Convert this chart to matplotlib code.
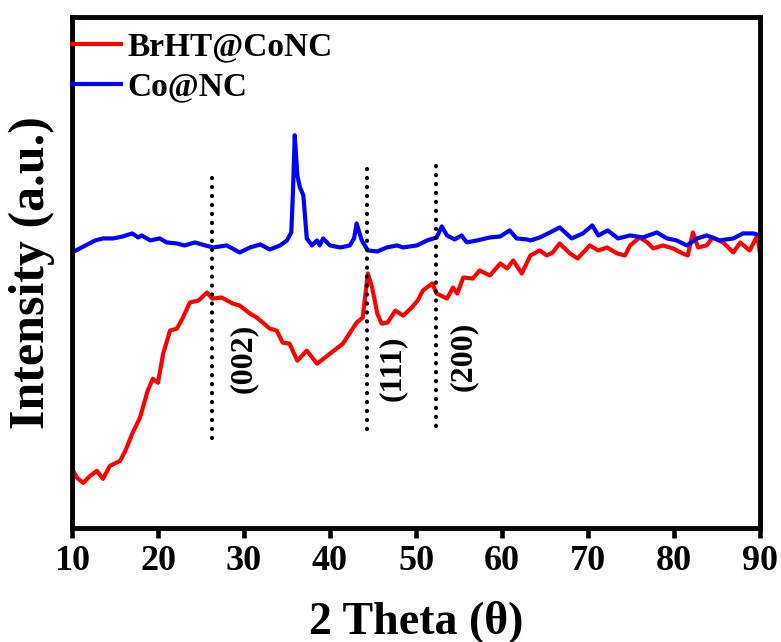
import numpy as np
import matplotlib
matplotlib.use('Agg')
import matplotlib.pyplot as plt

# XRD patterns (intensity in arbitrary units)
theta_conc = [10, 10.9, 12.7, 13.6, 14.8, 15.9, 17, 17.7, 18.1, 19.1,
              20.2, 21, 22.2, 23.1, 24.3, 25.5, 26.4, 28, 29.5, 30.7,
              31.9, 33, 34.2, 35, 35.5, 35.7, 35.9, 36.2, 36.5, 36.9,
              37.3, 37.9, 38.5, 38.8, 39.2, 40, 41.2, 42.3, 42.8, 43.1,
              43.4, 43.7, 44.4, 45.5, 46.6, 47.8, 48.5, 50.1, 51.3, 52.4,
              53, 53.6, 54.5, 55.3, 55.9, 57.1, 58.6, 59.8, 60.9, 61.7,
              62.9, 63.3, 64.4, 65.6, 66.7, 68.1, 69.4, 70.5, 71.2, 72.3,
              73.5, 74.9, 76.4, 78, 79.2, 80.3, 81.5, 82.7, 83.8, 85.3,
              86.9, 88, 89.2, 90]
int_conc = [276, 280, 288, 290, 290, 292, 295, 291, 293, 288,
            290, 286, 285, 283, 286, 283, 281, 283, 276, 281,
            284, 279, 283, 288, 296, 338, 393, 353, 341, 333,
            290, 283, 288, 283, 290, 283, 281, 283, 290, 305,
            296, 288, 278, 277, 281, 283, 281, 283, 288, 291,
            302, 293, 289, 293, 286, 288, 291, 292, 298, 290,
            289, 288, 291, 296, 301, 290, 295, 303, 293, 298,
            290, 293, 291, 296, 290, 288, 283, 290, 293, 288,
            290, 295, 295, 293]

theta_brht = [10, 10.6, 11.3, 12.1, 12.9, 13.6, 14.4, 15.6, 16.2, 17,
              17.9, 18.8, 19.4, 20, 20.6, 21.4, 22.2, 22.9, 23.7, 24.7,
              25.7, 26.3, 27.4, 28.7, 29.5, 30.7, 31.5, 33, 33.8, 34.5,
              35.3, 36.2, 37.3, 38.5, 40, 41.5, 43.1, 43.8, 44.4, 44.9,
              45.5, 46, 46.7, 47.6, 48.5, 49.5, 50.2, 50.8, 51.9, 52.4,
              53.6, 54.3, 54.8, 55.5, 56.6, 57.4, 58.6, 59.8, 60.6, 61.3,
              62.3, 63.3, 64.4, 65.2, 65.9, 66.7, 67.9, 68.8, 70.2, 71.2,
              72.2, 73.4, 74.3, 74.9, 76, 76.9, 77.6, 78.7, 79.9, 81,
              81.6, 82.2, 82.8, 83.8, 84.5, 85.7, 86.9, 87.7, 88.8, 89.7,
              90]
int_brht = [60, 51, 46, 53, 58, 50, 63, 68, 78, 95,
            111, 138, 150, 146, 175, 198, 200, 211, 226, 228,
            236, 230, 231, 225, 223, 215, 211, 200, 198, 186,
            185, 168, 178, 165, 175, 185, 206, 211, 255, 241,
            215, 205, 206, 218, 213, 221, 228, 238, 245, 235,
            230, 241, 235, 251, 250, 258, 253, 265, 260, 268,
            255, 273, 278, 273, 276, 285, 275, 270, 283, 278,
            281, 275, 273, 283, 291, 286, 280, 283, 280, 275,
            273, 296, 281, 283, 291, 286, 276, 286, 278, 293,
            275]

# reference planes: position, dotted line span, label text / label position
plane_pos = [26.3, 44.3, 52.3]
plane_lo = [91, 100, 103]
plane_hi = [351, 360, 363]
plane_labels = ['(002)', '(111)', '(200)']
plane_label_x = [29.9, 47.3, 55.5]
plane_label_y = [170, 160, 172]

xticks = [10, 20, 30, 40, 50, 60, 70, 80, 90]

plt.rcParams['font.family'] = 'Liberation Serif'
plt.rcParams['font.weight'] = 'bold'

fig = plt.figure(figsize=(7.81, 6.42), dpi=100)
ax = fig.add_axes([72/781, 114/642, 688/781, 511/642])

ax.plot(theta_brht, int_brht, color='#ff0000', lw=3.0, label='BrHT@CoNC')
ax.plot(theta_conc, int_conc, color='#0000ff', lw=3.0, label='Co@NC')

for xp, lo, hi in zip(plane_pos, plane_lo, plane_hi):
    ax.plot([xp, xp], [lo, hi], color='black', lw=3.0,
            ls=(0, (0.05, 2.1)), dash_capstyle='round')
for lab, lx, ly in zip(plane_labels, plane_label_x, plane_label_y):
    ax.text(lx, ly, lab, rotation=90, ha='center', va='center',
            fontsize=23, fontweight='bold')

ax.set_xlim(10, 90)
ax.set_ylim(1, 511)
ax.set_xticks(xticks)
ax.set_yticks([])
ax.tick_params(axis='x', direction='out', length=7, width=3.3, pad=5,
               labelsize=26)
for s in ax.spines.values():
    s.set_linewidth(3.5)

ax.set_xlabel('2 Theta (θ)', fontsize=33, fontweight='bold', labelpad=16)
ax.set_ylabel('Intensity (a.u.)', fontsize=36, fontweight='bold', labelpad=12)

leg = ax.legend(loc='upper left', bbox_to_anchor=(0.0, 0.972), frameon=False,
                fontsize=24, handlelength=1.47, handletextpad=0.18,
                borderpad=0, borderaxespad=0, labelspacing=0.28)
for t in leg.get_texts():
    t.set_fontweight('bold')

fig.savefig('out.png', dpi=100)
